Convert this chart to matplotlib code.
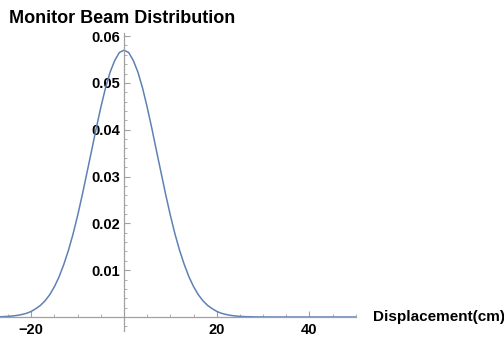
import matplotlib
matplotlib.use("Agg")
import matplotlib.pyplot as plt
from matplotlib.ticker import FixedLocator, MultipleLocator, FuncFormatter

# Data
x_cm = [-27, -26, -25, -24, -23, -22, -21, -20, -19, -18, -17, -16, -15, -14, -13,
        -12, -11, -10, -9, -8, -7, -6, -5, -4, -3, -2, -1, 0,
        1, 2, 3, 4, 5, 6, 7, 8, 9, 10, 11, 12, 13, 14, 15, 16, 17, 18, 19,
        20, 21, 22, 23, 24, 25, 26, 28, 30, 35, 40, 45, 50]
density = [0.00005, 0.00008, 0.00014, 0.00022, 0.00035, 0.00054, 0.0008, 0.0012, 0.0018,
           0.0025, 0.0035, 0.0048, 0.0065, 0.0086, 0.0112,
           0.0142, 0.0177, 0.0217, 0.0261, 0.0308, 0.0355, 0.0403, 0.0448, 0.0489,
           0.0523, 0.0548, 0.0565, 0.0570,
           0.0565, 0.0548, 0.0523, 0.0489, 0.0448, 0.0403, 0.0355, 0.0308, 0.0261,
           0.0217, 0.0177, 0.0142, 0.0112, 0.0086, 0.0065, 0.0048, 0.0035, 0.0025,
           0.0018, 0.0012, 0.0008, 0.00054, 0.00035, 0.00022, 0.00014, 0.00008,
           0.00003, 0.00001, 0.0, 0.0, 0.0, 0.0]
x_ticks = [-20, 20, 40]
y_ticks = [0.01, 0.02, 0.03, 0.04, 0.05, 0.06]
title = "Monitor Beam Distribution"
x_label = "Displacement(cm)"

plt.rcParams['font.family'] = ['Liberation Sans', 'DejaVu Sans']

fig = plt.figure(figsize=(5.04, 3.42), dpi=100)
ax = fig.add_axes([0.0, 0.032, 0.706, 0.872])
ax.plot(x_cm, density, color='#5E81B5', lw=1.1)
ax.set_xlim(-26.75, 50)
ax.set_ylim(-0.003, 0.0607)

axis_col = '#a0a0a0'
for s in ['top', 'right']:
    ax.spines[s].set_visible(False)
ax.spines['left'].set_position(('data', 0))
ax.spines['bottom'].set_position(('data', 0))
for s in ['left', 'bottom']:
    ax.spines[s].set_color(axis_col)
    ax.spines[s].set_linewidth(0.9)

ax.xaxis.set_major_locator(FixedLocator(x_ticks))
ax.xaxis.set_minor_locator(MultipleLocator(5))
ax.yaxis.set_major_locator(FixedLocator(y_ticks))
ax.yaxis.set_minor_locator(MultipleLocator(0.002))
ax.xaxis.set_major_formatter(FuncFormatter(lambda v, p: f"{v:.0f}".replace('-', '\u2212')))
ax.yaxis.set_major_formatter(FuncFormatter(lambda v, p: f"{v:.2f}"))

ax.tick_params(axis='both', which='major', direction='in', length=4, width=0.8,
               color=axis_col, labelsize=10.5, pad=3)
ax.tick_params(axis='x', which='major', pad=4)
ax.tick_params(axis='both', which='minor', direction='in', length=2.5, width=0.6,
               color=axis_col)
for lab in ax.get_xticklabels() + ax.get_yticklabels():
    lab.set_fontweight('bold')

fig.text(0.018, 0.97, title, fontsize=13, fontweight='bold', ha='left', va='top')
ax.text(53.6, 0.0, x_label, fontsize=11, fontweight='bold', ha='left', va='center')

fig.savefig("out.png", dpi=100)
